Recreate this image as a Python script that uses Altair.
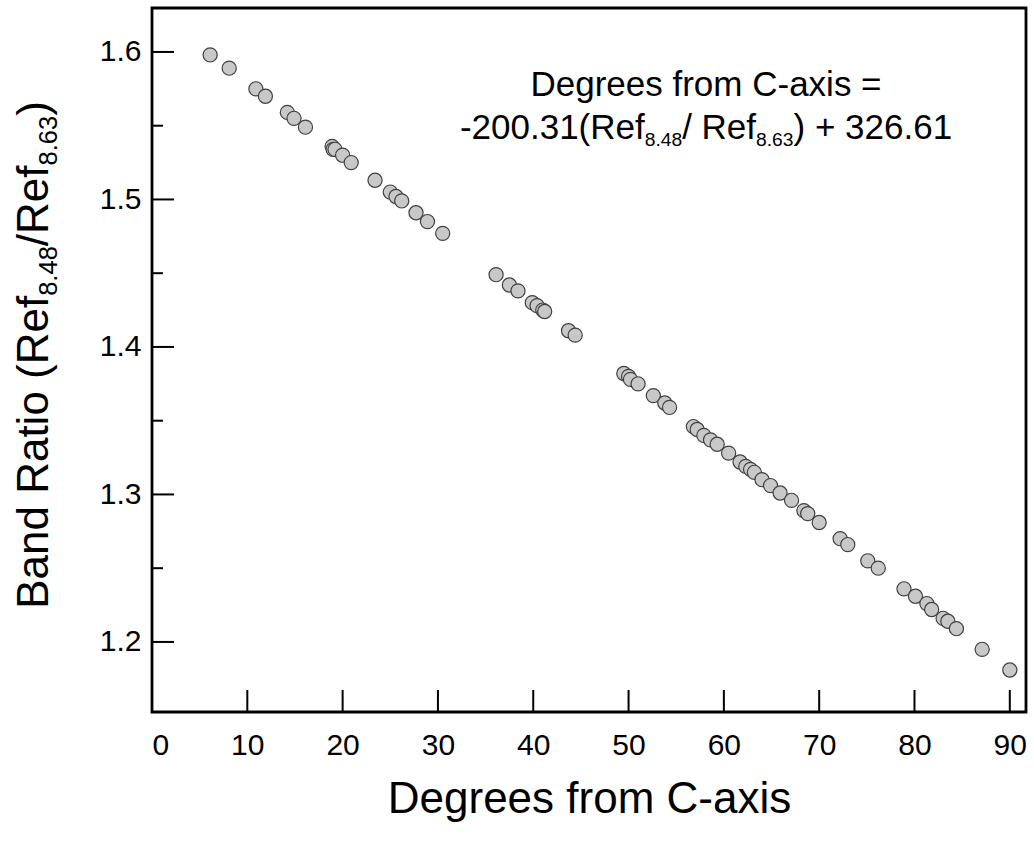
import altair as alt
import pandas as pd

# ---- data ----
degrees = [6.1, 8.1, 10.9, 11.9, 14.2, 14.9, 16.1, 18.9, 19.0, 19.2, 20.0, 20.9,
           23.4, 25.0, 25.6, 26.2, 27.7, 28.9, 30.5,
           36.1, 37.5, 38.4, 39.9, 40.4, 41.0, 41.2, 43.7, 44.4,
           49.5, 50.0, 50.2, 51.0, 52.6, 53.8, 54.3,
           56.8, 57.2, 57.9, 58.6, 59.3, 60.5, 61.7, 62.3, 62.8, 63.2, 64.0,
           64.9, 65.9, 67.1, 68.4, 68.8, 70.0, 72.2, 73.0, 75.1, 76.2,
           78.9, 80.1, 81.3, 81.8, 83.0, 83.5, 84.4, 87.1, 90.0]
ratio = [1.598, 1.589, 1.575, 1.570, 1.559, 1.555, 1.549, 1.536, 1.534, 1.534, 1.530, 1.525,
         1.513, 1.505, 1.502, 1.499, 1.491, 1.485, 1.477,
         1.449, 1.442, 1.438, 1.430, 1.428, 1.425, 1.424, 1.411, 1.408,
         1.382, 1.380, 1.378, 1.375, 1.367, 1.362, 1.359,
         1.346, 1.344, 1.340, 1.337, 1.334, 1.328, 1.322, 1.319, 1.317, 1.315, 1.310,
         1.306, 1.301, 1.296, 1.289, 1.287, 1.281, 1.270, 1.266, 1.255, 1.250,
         1.236, 1.231, 1.226, 1.222, 1.216, 1.214, 1.209, 1.195, 1.181]

x_label_values = [0, 10, 20, 30, 40, 50, 60, 70, 80, 90]
x_tick_values = [10, 20, 30, 40, 50, 60, 70, 80, 90]
y_major = [1.2, 1.3, 1.4, 1.5, 1.6]
y_minor = [1.25, 1.35, 1.45, 1.55]

x_title = "Degrees from C-axis"
y_title_parts = [("Band Ratio (Ref", False), ("8.48", True), ("/Ref", False), ("8.63", True), (")", False)]
eq_line1 = [("Degrees from C-axis =", False)]
eq_line2 = [("-200.31(Ref", False), ("8.48", True), ("/ Ref", False), ("8.63", True), (") + 326.61", False)]

# ---- layout ----
W, H = 874, 704
X_DOMAIN = [0, 91.7]
Y_DOMAIN = [1.1525, 1.6298]
FONT = "Liberation Sans"

xs = alt.Scale(domain=X_DOMAIN, nice=False, zero=False)
ys = alt.Scale(domain=Y_DOMAIN, nice=False, zero=False)

xaxis = alt.Axis(values=x_label_values, format="d", ticks=False, tickSize=0, domain=False, grid=False,
                 labelFontSize=30, labelPadding=18, labelColor="black", labelFont=FONT,
                 title=x_title, titleFontSize=44, titleFont=FONT, titleFontWeight="normal",
                 titleColor="black", titleBaseline="alphabetic", titleY=100)
yaxis = alt.Axis(values=y_major, format=".1f", ticks=False, tickSize=0, domain=False, grid=False,
                 labelFontSize=30, labelPadding=11, labelColor="black", labelFont=FONT, title=None)

# Arial / Liberation Sans advance widths (per 1000 em)
ADV = {' ': 278, '(': 333, ')': 333, '+': 584, '-': 333, '.': 278, '/': 278, '=': 584,
       'B': 667, 'C': 722, 'D': 722, 'R': 722, 'a': 556, 'd': 556, 'e': 556, 'f': 278,
       'g': 556, 'i': 222, 'm': 833, 'n': 556, 'o': 556, 'r': 333, 's': 500, 't': 278, 'x': 500}


def text_width(s, size):
    return sum(ADV.get(c, 556) for c in s) * size / 1000.0


def text_layers(parts, size, x, y, angle=0, sub_scale=0.56, sub_drop=0.2):
    sizes = [size * sub_scale if sub else size for _, sub in parts]
    total = sum(text_width(t, s) for (t, _), s in zip(parts, sizes))
    off = -total / 2.0
    layers = []
    for (t, sub), s in zip(parts, sizes):
        kw = dict(align="left", baseline="alphabetic", font=FONT, fontSize=s,
                  color="black", dx=off, dy=(size * sub_drop if sub else 0))
        if angle:
            kw["angle"] = angle
        layers.append(
            alt.Chart(pd.DataFrame({"t": [t]})).mark_text(**kw).encode(
                text="t:N", x=alt.value(x), y=alt.value(y))
        )
        off += text_width(t, s)
    return layers


df = pd.DataFrame({"deg": degrees, "ratio": ratio})

points = alt.Chart(df).mark_circle(
    fill="#c8c8c8", stroke="#404040", strokeWidth=1.2, size=200, opacity=1
).encode(
    x=alt.X("deg:Q", scale=xs, axis=xaxis),
    y=alt.Y("ratio:Q", scale=ys, axis=yaxis),
)

ymaj = alt.Chart(pd.DataFrame({"v": y_major})).mark_rule(color="black", strokeWidth=2).encode(
    y=alt.Y("v:Q", scale=ys, axis=yaxis), x=alt.value(0), x2=alt.value(22))
ymin = alt.Chart(pd.DataFrame({"v": y_minor})).mark_rule(color="black", strokeWidth=2).encode(
    y=alt.Y("v:Q", scale=ys, axis=yaxis), x=alt.value(0), x2=alt.value(11))
xmaj = alt.Chart(pd.DataFrame({"v": x_tick_values})).mark_rule(color="black", strokeWidth=2).encode(
    x=alt.X("v:Q", scale=xs, axis=xaxis), y=alt.value(H), y2=alt.value(H - 22))

ytitle = text_layers(y_title_parts, 44, -104, 347, angle=270, sub_scale=0.58, sub_drop=0.2)
eq1 = text_layers(eq_line1, 35, 554, 88)
eq2 = text_layers(eq_line2, 35, 554, 131, sub_scale=0.55, sub_drop=0.2)

chart = alt.layer(ymaj, ymin, xmaj, points, *ytitle, *eq1, *eq2).properties(
    width=W, height=H,
    autosize=alt.AutoSizeParams(type="none"),
    padding={"left": 152, "top": 8, "right": 8, "bottom": 134},
).configure_view(
    stroke="black", strokeWidth=2.8
)

chart.save("out.html", embed_options={"renderer": "svg", "actions": False})
